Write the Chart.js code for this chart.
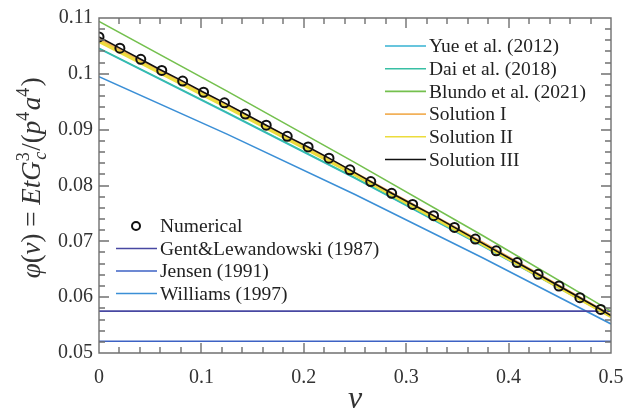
<!DOCTYPE html>
<html>
<head>
<meta charset="utf-8">
<script src="https://cdn.jsdelivr.net/npm/chart.js@4.4.1/dist/chart.umd.min.js"></script>
<style>
  html, body { margin: 0; padding: 0; background: #fff; }
  #wrap { width: 637px; height: 419px; position: relative; }
</style>
</head>
<body>
<div id="wrap"><canvas id="chart"></canvas></div>
<script>
// poisson ratio samples for the analytic curves
const nuLine = [0, 0.125, 0.25, 0.375, 0.5];
const yue    = [0.1045, 0.0930, 0.0813, 0.0691, 0.0565];
const dai    = [0.1046, 0.0931, 0.0814, 0.0692, 0.0566];
const blundo = [0.1094, 0.0969, 0.0841, 0.0710, 0.0575];
const solI   = [0.1062, 0.0943, 0.0822, 0.0697, 0.0567];
const solII  = [0.1058, 0.0940, 0.0819, 0.0694, 0.0565];
const williams = [0.0995, 0.0892, 0.0784, 0.0670, 0.0552];

const nuFlat = [0, 0.5];
const gent   = [0.0575, 0.0575];
const jensen = [0.0521, 0.0521];

// numerical results (circles)
const nuNum = [0, 0.0204, 0.0408, 0.0613, 0.0817, 0.1021, 0.1225, 0.1429, 0.1633, 0.1838,
               0.2042, 0.2246, 0.245, 0.2654, 0.2858, 0.3063, 0.3267, 0.3471, 0.3675, 0.3879,
               0.4083, 0.4288, 0.4492, 0.4696, 0.49];
const numerical = [0.1066, 0.1046, 0.1026, 0.1006, 0.0987, 0.0967, 0.0948, 0.0928, 0.0908, 0.0888,
                   0.0869, 0.0849, 0.0828, 0.0807, 0.0786, 0.0766, 0.0746, 0.0725, 0.0704, 0.0683,
                   0.0662, 0.0641, 0.0620, 0.0599, 0.0578];
const nuSolIII = [0, 0.0204, 0.0408, 0.0613, 0.0817, 0.1021, 0.1225, 0.1429, 0.1633, 0.1838,
                  0.2042, 0.2246, 0.245, 0.2654, 0.2858, 0.3063, 0.3267, 0.3471, 0.3675, 0.3879,
                  0.4083, 0.4288, 0.4492, 0.4696, 0.49, 0.5];
const solIII = [0.1066, 0.1046, 0.1026, 0.1006, 0.0987, 0.0967, 0.0948, 0.0928, 0.0908, 0.0888,
                0.0869, 0.0849, 0.0828, 0.0807, 0.0786, 0.0766, 0.0746, 0.0725, 0.0704, 0.0683,
                0.0662, 0.0641, 0.0620, 0.0599, 0.0578, 0.0567];

const xTicks = [0, 0.1, 0.2, 0.3, 0.4, 0.5];
const yTicks = [0.05, 0.06, 0.07, 0.08, 0.09, 0.1, 0.11];
const xMinorStep = 0.02;
const yMinorStep = 0.002;

const topLegend = ['Yue et al. (2012)', 'Dai et al. (2018)', 'Blundo et al. (2021)', 'Solution I', 'Solution II', 'Solution III'];
const bottomLegend = ['Numerical', 'Gent&Lewandowski (1987)', 'Jensen (1991)', 'Williams (1997)'];

const FONT = '"Liberation Serif", "DejaVu Serif", serif';
const AXIS = '#707070';

const pts = (xs, ys) => xs.map((x, i) => ({ x: x, y: ys[i] }));

function lineSet(label, xs, ys, color, width, order) {
    return { label: label, data: pts(xs, ys), borderColor: color, backgroundColor: color,
             borderWidth: width, pointRadius: 0, showLine: true, order: order };
}

const datasets = [
    lineSet(topLegend[0], nuLine, yue, '#36b2d2', 1.6, 8),
    lineSet(topLegend[1], nuLine, dai, '#38bfa4', 1.6, 7),
    lineSet(topLegend[2], nuLine, blundo, '#74c04e', 1.6, 6),
    lineSet(topLegend[3], nuLine, solI, '#f2b15a', 3, 5),
    lineSet(topLegend[4], nuLine, solII, '#ecdc3c', 3, 4),
    lineSet(topLegend[5], nuSolIII, solIII, '#111111', 1.6, 2),
    { label: bottomLegend[0], data: pts(nuNum, numerical), borderColor: '#111111', backgroundColor: 'rgba(0,0,0,0)',
      borderWidth: 2, pointRadius: 4.5, pointBorderWidth: 2, showLine: false, order: 1 },
    lineSet(bottomLegend[1], nuFlat, gent, '#4848a2', 1.6, 9),
    lineSet(bottomLegend[2], nuFlat, jensen, '#3d62c4', 1.6, 10),
    lineSet(bottomLegend[3], nuLine, williams, '#3b8fd6', 1.6, 11)
];

const fmt = v => String(Number(Number(v).toFixed(3)));

// inside ticks on all four sides, box, legends and axis titles
const decor = {
    id: 'decor',
    afterDraw(chart) {
        const ctx = chart.ctx;
        const a = chart.chartArea;
        const xs = chart.scales.x, ys = chart.scales.y;
        const L = Math.round(a.left), R = Math.round(a.right);
        const T = Math.round(a.top), B = Math.round(a.bottom);
        ctx.save();
        ctx.strokeStyle = AXIS;
        ctx.lineWidth = 1.4;
        ctx.beginPath();
        const nx = Math.round((xs.max - xs.min) / xMinorStep);
        for (let i = 0; i <= nx; i++) {
            const px = Math.round(xs.getPixelForValue(xs.min + i * xMinorStep));
            const len = i % 5 === 0 ? 10 : 6;
            ctx.moveTo(px, B); ctx.lineTo(px, B - len);
            ctx.moveTo(px, T); ctx.lineTo(px, T + len);
        }
        const ny = Math.round((ys.max - ys.min) / yMinorStep);
        for (let i = 0; i <= ny; i++) {
            const py = Math.round(ys.getPixelForValue(ys.min + i * yMinorStep));
            const len = i % 5 === 0 ? 10 : 6;
            ctx.moveTo(L, py); ctx.lineTo(L + len, py);
            ctx.moveTo(R, py); ctx.lineTo(R - len, py);
        }
        ctx.rect(L, T, R - L, B - T);
        ctx.stroke();

        // legends
        ctx.font = '19.5px ' + FONT;
        ctx.textBaseline = 'middle';
        const drawRow = (ds, x, y) => {
            if (ds.showLine === false) {
                ctx.beginPath();
                ctx.arc(x + 20, y, 4, 0, Math.PI * 2);
                ctx.strokeStyle = ds.borderColor;
                ctx.lineWidth = 2;
                ctx.stroke();
            } else {
                ctx.beginPath();
                ctx.moveTo(x, y); ctx.lineTo(x + 41, y);
                ctx.strokeStyle = ds.borderColor;
                ctx.lineWidth = 1.6;
                ctx.stroke();
            }
            ctx.fillStyle = '#222';
            ctx.fillText(ds.label, x + 44, y + 1);
        };
        topLegend.forEach((lab, i) => {
            drawRow(datasets.find(d => d.label === lab), 385, 46 + i * 22.7);
        });
        bottomLegend.forEach((lab, i) => {
            drawRow(datasets.find(d => d.label === lab), 116, 226 + i * 22.5);
        });

        // x title
        ctx.fillStyle = '#333';
        ctx.font = 'italic 32px ' + FONT;
        ctx.textAlign = 'center';
        ctx.textBaseline = 'alphabetic';
        ctx.fillText('ν', (a.left + a.right) / 2, 408);

        // y title with sub/superscripts
        const size = 27;
        const runs = [
            ['φ', 'i', 0], ['(', 'r', 0], ['ν', 'i', 0], [')', 'r', 0], [' = ', 'r', 0],
            ['E', 'i', 0], ['t', 'i', 0], ['G', 'i', 0], ['3', 'sup', 0], ['c', 'sub', -1],
            ['/', 'r', 0], ['(', 'r', 0], ['p', 'i', 0], ['4', 'sup', 0], ['a', 'i', 0], ['4', 'sup', 0], [')', 'r', 0]
        ];
        const fontOf = k => (k === 'i' ? 'italic ' + size + 'px ' :
                             k === 'r' ? size + 'px ' :
                             k === 'sub' ? 'italic ' + Math.round(size * 0.68) + 'px ' :
                             Math.round(size * 0.68) + 'px ') + FONT;
        let total = 0;
        const widths = runs.map(r => { ctx.font = fontOf(r[1]); return ctx.measureText(r[0]).width; });
        runs.forEach((r, i) => { if (r[2] !== -1) total += widths[i]; });
        ctx.translate(40, 180);
        ctx.rotate(-Math.PI / 2);
        ctx.textAlign = 'left';
        let cx = -total / 2;
        let prevW = 0;
        runs.forEach((r, i) => {
            ctx.font = fontOf(r[1]);
            let dy = 0;
            if (r[1] === 'sup') dy = -size * 0.4;
            if (r[1] === 'sub') dy = size * 0.22;
            let x = r[2] === -1 ? cx - prevW : cx;
            ctx.fillText(r[0], x, dy);
            if (r[2] !== -1) {
                cx += widths[i];
                prevW = widths[i];
                if (r[1] === 'sup') cx += 1.5;
            }
        });
        ctx.restore();
    }
};

new Chart(document.getElementById('chart'), {
    type: 'scatter',
    data: { datasets: datasets },
    plugins: [decor],
    options: {
        responsive: true,
        maintainAspectRatio: false,
        animation: false,
        layout: { padding: { left: 0, right: 26, top: 15, bottom: 0 } },
        plugins: { legend: { display: false }, tooltip: { enabled: false } },
        scales: {
            x: {
                type: 'linear', min: 0, max: 0.5,
                afterFit: s => { s.height = 66; },
                afterBuildTicks: s => { s.ticks = xTicks.map(v => ({ value: v })); },
                grid: { display: false, drawTicks: false },
                border: { display: false },
                ticks: { callback: fmt, color: '#333', padding: 13, maxRotation: 0, font: { family: FONT, size: 20 } }
            },
            y: {
                type: 'linear', min: 0.05, max: 0.11,
                afterFit: s => { s.width = 99; },
                afterBuildTicks: s => { s.ticks = yTicks.map(v => ({ value: v })); },
                grid: { display: false, drawTicks: false },
                border: { display: false },
                ticks: { callback: fmt, color: '#333', padding: 6, font: { family: FONT, size: 20 } }
            }
        }
    }
});
</script>
</body>
</html>
